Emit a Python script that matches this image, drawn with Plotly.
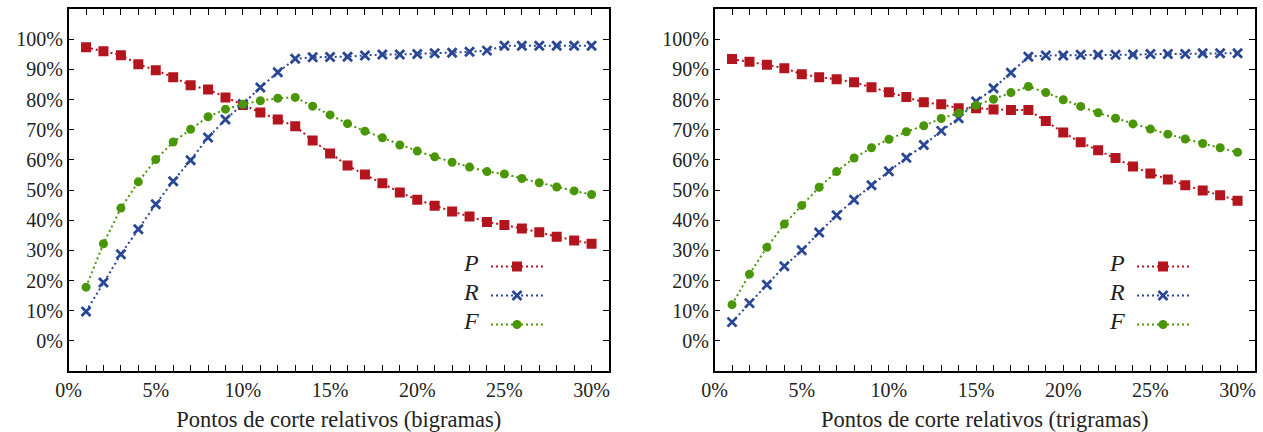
import plotly.graph_objects as go

pontos = list(range(1, 31))

# Bigramas
P_bi = [97.3, 96.0, 94.7, 91.7, 89.7, 87.4, 84.7, 83.3, 80.7, 78.2,
        75.7, 73.4, 71.1, 66.4, 62.1, 58.1, 55.1, 52.2, 49.2, 46.8,
        44.8, 42.9, 41.2, 39.4, 38.4, 37.2, 36.0, 34.5, 33.3, 32.2]
R_bi = [9.7, 19.3, 28.7, 37.0, 45.3, 52.9, 59.9, 67.4, 73.4, 78.5,
        84.0, 89.0, 93.5, 94.0, 94.1, 94.2, 94.6, 94.9, 94.9, 95.1,
        95.3, 95.5, 95.8, 96.2, 97.8, 97.8, 97.8, 97.8, 97.8, 97.8]
F_bi = [17.8, 32.2, 44.0, 52.7, 60.1, 65.9, 70.1, 74.3, 76.8, 78.4,
        79.6, 80.4, 80.7, 77.8, 74.9, 72.0, 69.5, 67.3, 64.9, 62.9,
        61.0, 59.2, 57.6, 56.1, 55.3, 53.8, 52.4, 51.0, 49.7, 48.5]

# Trigramas
P_tri = [93.4, 92.5, 91.5, 90.4, 88.4, 87.4, 86.7, 85.7, 84.1, 82.4,
         80.8, 79.1, 78.4, 77.1, 77.1, 76.7, 76.5, 76.5, 72.9, 69.1,
         65.8, 63.2, 60.6, 57.8, 55.5, 53.5, 51.6, 49.8, 48.3, 46.4]
R_tri = [6.2, 12.5, 18.6, 24.7, 30.0, 35.9, 41.6, 46.8, 51.6, 56.2,
         60.7, 64.9, 69.6, 73.8, 79.3, 83.7, 88.9, 94.2, 94.6, 94.6,
         94.8, 94.8, 94.8, 94.9, 95.1, 95.1, 95.1, 95.3, 95.3, 95.3]
F_tri = [12.0, 22.1, 31.0, 38.7, 44.9, 50.9, 56.1, 60.6, 64.0, 66.8,
         69.3, 71.3, 73.7, 75.5, 78.1, 80.1, 82.3, 84.3, 82.3, 79.9,
         77.7, 75.6, 73.8, 71.9, 70.2, 68.5, 66.9, 65.4, 64.0, 62.5]

series_names = ["P", "R", "F"]
x_titles = ["Pontos de corte relativos (bigramas)", "Pontos de corte relativos (trigramas)"]
y_tickvals = list(range(0, 101, 10))
y_ticktext = [f"{v}%" for v in y_tickvals]
x_tickvals = list(range(0, 31, 5))
x_ticktext = [f"{v}%" for v in x_tickvals]

RED = "#B3151F"
BLUE = "#2A4795"
GREEN = "#4A9608"
FONT = "'Liberation Serif', 'DejaVu Serif', serif"

styles = {
    "P": dict(color=RED, symbol="square", size=10),
    "R": dict(color=BLUE, symbol="x-thin", size=9),
    "F": dict(color=GREEN, symbol="circle", size=9),
}

fig = go.Figure()
panels = [
    (dict(P=P_bi, R=R_bi, F=F_bi), "x", "y", "legend"),
    (dict(P=P_tri, R=R_tri, F=F_tri), "x2", "y2", "legend2"),
]
for data, xa, ya, lg in panels:
    for name in series_names:
        st = styles[name]
        marker = dict(color=st["color"], symbol=st["symbol"], size=st["size"])
        if st["symbol"] == "x-thin":
            marker["line"] = dict(color=st["color"], width=2.8)
        fig.add_trace(go.Scatter(
            x=pontos, y=data[name], mode="lines+markers", name=" ",
            line=dict(color=st["color"], width=2, dash="2px,3px"),
            marker=marker, xaxis=xa, yaxis=ya, legend=lg,
            hovertemplate=name + ": %{y}%<extra></extra>",
        ))

W, H = 1263, 432
left_dom = [68.6 / W, 609 / W]
right_dom = [714.6 / W, 1255 / W]
y_dom = [1 - 371 / H, 1 - 9 / H]

axis_common = dict(
    showgrid=False, zeroline=False, showline=True, linecolor="black", linewidth=1.5,
    mirror="ticks", ticks="inside", ticklen=6, tickwidth=1.2, tickcolor="black",
    tickfont=dict(family=FONT, size=20, color="#222"), automargin=False,
)

def xaxis(dom, title, anchor):
    return dict(axis_common, domain=dom, range=[0, 31], anchor=anchor,
                tickmode="array", tickvals=x_tickvals, ticktext=x_ticktext,
                minor=dict(dtick=1, ticks="inside", ticklen=6, tickcolor="black", tickwidth=1.2),
                title=dict(text=title, font=dict(family=FONT, size=22.5, color="#222"), standoff=12))

def yaxis(anchor):
    return dict(axis_common, domain=y_dom, range=[-10, 110], anchor=anchor,
                tickmode="array", tickvals=y_tickvals, ticktext=y_ticktext)

legend_common = dict(
    bgcolor="rgba(0,0,0,0)", borderwidth=0, xanchor="left", yanchor="top",
    font=dict(family=FONT, size=20), tracegroupgap=0, itemwidth=52,
)

annotations = []
for x_right in [481 / W, 1127 / W]:
    for lab, ypx in zip(series_names, [262.5, 291.8, 321.1]):
        annotations.append(dict(
            x=x_right, y=1 - ypx / H, xref="paper", yref="paper",
            xanchor="right", yanchor="middle", showarrow=False,
            text=f"<i>{lab}</i>", font=dict(family=FONT, size=24, color="#222"),
        ))

fig.update_layout(
    width=W, height=H, margin=dict(l=0, r=0, t=0, b=0),
    paper_bgcolor="white", plot_bgcolor="white",
    xaxis=xaxis(left_dom, x_titles[0], "y"),
    yaxis=yaxis("x"),
    xaxis2=xaxis(right_dom, x_titles[1], "y2"),
    yaxis2=yaxis("x2"),
    legend=dict(legend_common, x=486 / W, y=1 - 247 / H),
    legend2=dict(legend_common, x=1132 / W, y=1 - 247 / H),
    annotations=annotations,
    showlegend=True,
)

fig.write_html("out.html")
